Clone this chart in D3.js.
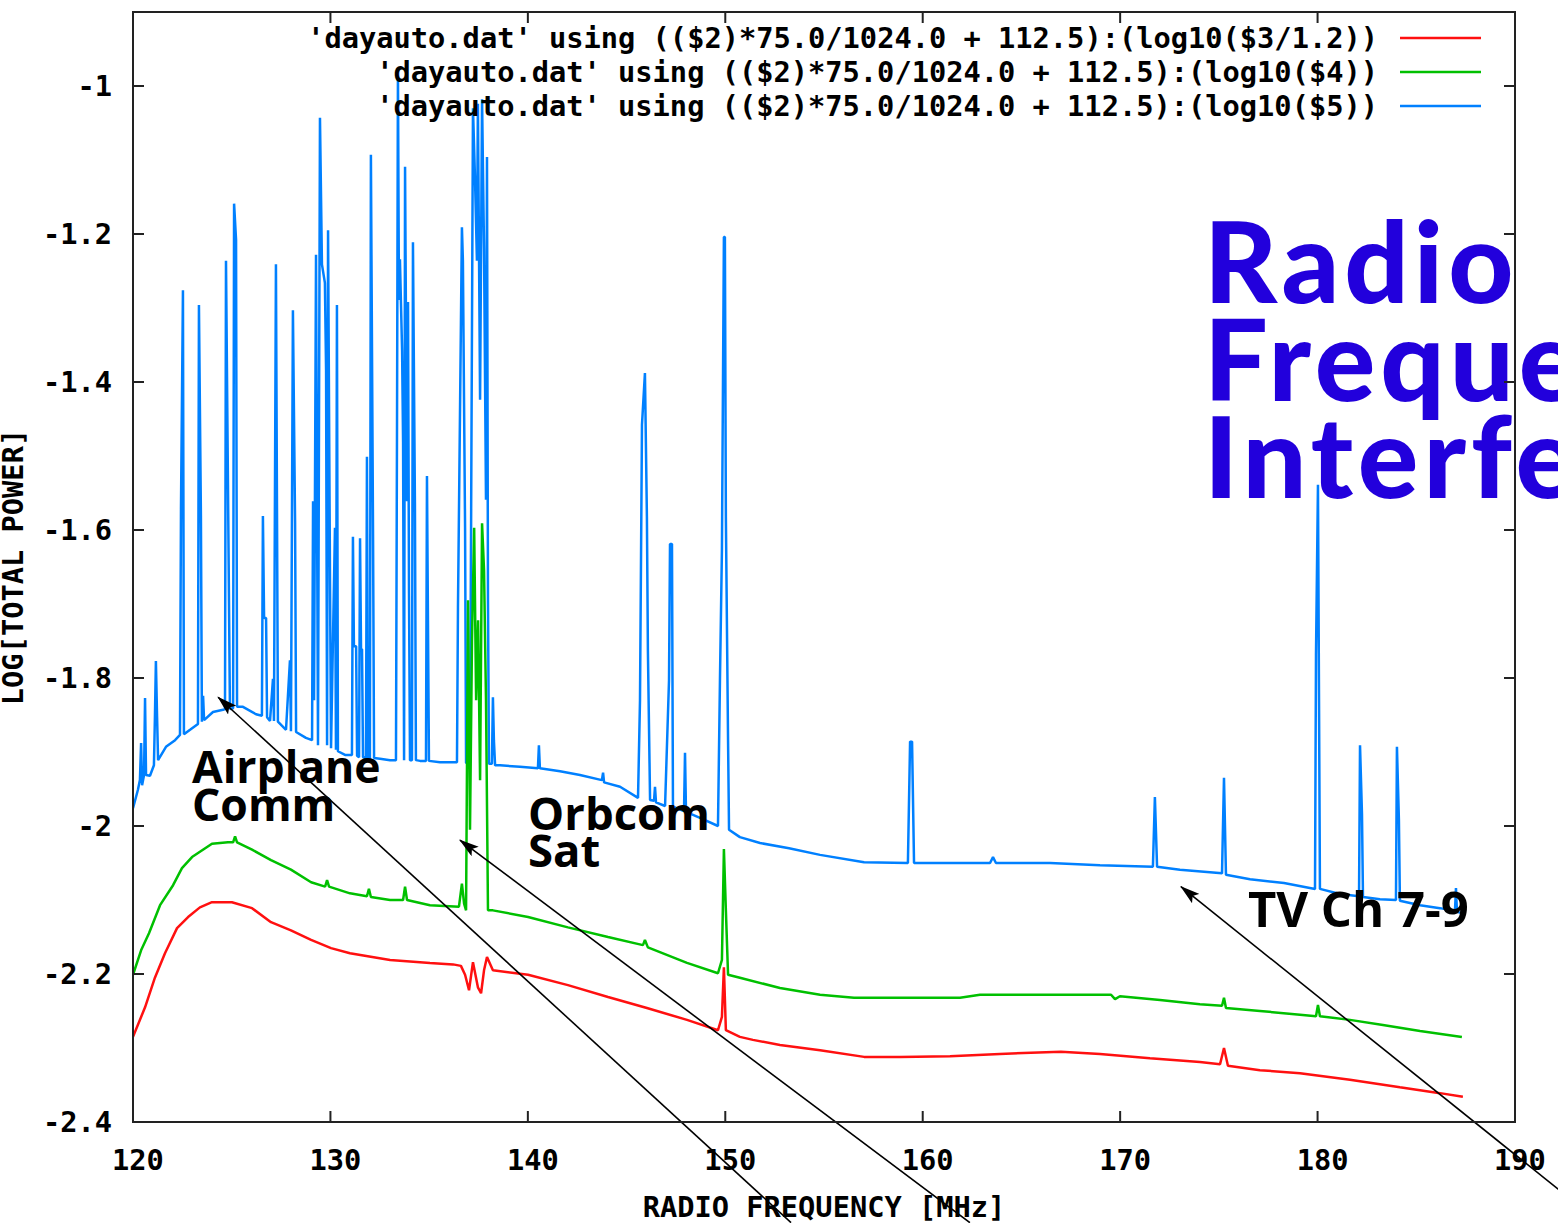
<!DOCTYPE html>
<html>
<head>
<meta charset="utf-8">
<script src="https://cdn.jsdelivr.net/npm/d3@7"></script>
<style>
  html, body { margin: 0; padding: 0; background: #fff; overflow: hidden; }
  svg { display: block; }
</style>
</head>
<body>
<svg id="chart" width="1558" height="1223"></svg>
<script>
// Axis ticks
const freqTicks = [120, 130, 140, 150, 160, 170, 180, 190];
const powerTicks = [-2.4, -2.2, -2.0, -1.8, -1.6, -1.4, -1.2, -1.0];

// Legend entries (gnuplot "using" expressions)
const seriesLabels = [
  "'dayauto.dat' using (($2)*75.0/1024.0 + 112.5):(log10($3/1.2))",
  "'dayauto.dat' using (($2)*75.0/1024.0 + 112.5):(log10($4))",
  "'dayauto.dat' using (($2)*75.0/1024.0 + 112.5):(log10($5))"
];
const seriesColors = ["#ff1010", "#00c000", "#0080ff"];

// [frequency MHz, log10 power]
const redPts = [
  [120.00,-2.285],[120.61,-2.245],[121.11,-2.205],[121.62,-2.172],[122.23,-2.138],[122.79,-2.123],
  [123.39,-2.110],[124.00,-2.103],[125.01,-2.103],[126.03,-2.111],[126.99,-2.130],[128.00,-2.141],
  [129.02,-2.154],[130.03,-2.165],[130.99,-2.172],[133.02,-2.181],[135.04,-2.185],[136.21,-2.187],
  [136.61,-2.189],[136.82,-2.201],[137.02,-2.222],[137.22,-2.184],[137.47,-2.218],[137.63,-2.226],
  [137.78,-2.195],[137.93,-2.177],[138.23,-2.195],[140.01,-2.201],[142.03,-2.215],[144.06,-2.231],
  [146.03,-2.246],[148.06,-2.262],[149.63,-2.276],[149.83,-2.258],[149.93,-2.191],[150.03,-2.276],
  [150.74,-2.285],[151.40,-2.289],[152.77,-2.296],[154.80,-2.303],[157.03,-2.312],[158.85,-2.312],
  [161.38,-2.311],[163.91,-2.308],[167.00,-2.305],[168.98,-2.308],[171.51,-2.314],[174.04,-2.319],
  [175.06,-2.322],[175.26,-2.300],[175.46,-2.324],[177.08,-2.330],[179.11,-2.334],[181.64,-2.343],
  [184.17,-2.353],[186.20,-2.361],[187.36,-2.366]
];

const greenPts = [
  [120.00,-2.201],[120.41,-2.168],[120.81,-2.145],[121.37,-2.107],[122.03,-2.080],[122.48,-2.057],
  [122.99,-2.042],[124.00,-2.024],[124.81,-2.022],[125.07,-2.022],[125.17,-2.014],[125.27,-2.022],
  [126.03,-2.032],[126.99,-2.046],[128.00,-2.059],[129.02,-2.076],[129.73,-2.082],[129.83,-2.073],
  [129.93,-2.082],[130.99,-2.091],[131.85,-2.095],[131.95,-2.085],[132.05,-2.096],[133.02,-2.100],
  [133.68,-2.100],[133.78,-2.082],[133.88,-2.100],[135.04,-2.107],[136.51,-2.109],[136.66,-2.078],
  [136.77,-2.105],[136.87,-2.114],[136.97,-1.695],[137.07,-2.005],[137.17,-1.749],[137.28,-1.597],
  [137.38,-1.830],[137.48,-1.722],[137.58,-1.938],[137.68,-1.591],[137.78,-1.654],[137.88,-1.830],
  [137.98,-2.114],[138.23,-2.114],[140.01,-2.123],[142.03,-2.137],[144.06,-2.150],[145.83,-2.161],
  [145.93,-2.154],[146.08,-2.164],[148.06,-2.185],[149.63,-2.199],[149.83,-2.181],[149.93,-2.031],
  [150.03,-2.114],[150.14,-2.201],[150.74,-2.205],[152.77,-2.219],[154.80,-2.228],[156.52,-2.232],
  [158.85,-2.232],[161.89,-2.232],[162.90,-2.228],[164.42,-2.228],[169.54,-2.228],[169.74,-2.234],
  [169.99,-2.230],[172.02,-2.235],[174.04,-2.241],[175.16,-2.243],[175.26,-2.232],[175.36,-2.246],
  [177.08,-2.250],[179.11,-2.255],[179.92,-2.257],[180.02,-2.242],[180.12,-2.257],[181.64,-2.262],
  [183.31,-2.269],[185.19,-2.277],[187.31,-2.285]
];

const bluePts = [
  [120.00,-1.976],[120.25,-1.951],[120.35,-1.938],[120.41,-1.888],[120.46,-1.945],[120.56,-1.931],
  [120.61,-1.827],[120.66,-1.931],[120.86,-1.932],[121.06,-1.918],[121.11,-1.853],[121.16,-1.777],
  [121.22,-1.853],[121.27,-1.911],[121.67,-1.893],[122.13,-1.884],[122.38,-1.877],[122.43,-1.572],
  [122.53,-1.276],[122.58,-1.876],[122.89,-1.870],[123.29,-1.862],[123.34,-1.296],[123.44,-1.581],
  [123.49,-1.859],[123.55,-1.824],[123.60,-1.857],[124.05,-1.846],[124.56,-1.843],[124.66,-1.842],
  [124.71,-1.236],[124.81,-1.538],[124.91,-1.842],[125.07,-1.841],[125.12,-1.159],[125.22,-1.208],
  [125.27,-1.839],[125.57,-1.839],[126.23,-1.849],[126.53,-1.851],[126.58,-1.581],[126.64,-1.719],
  [126.74,-1.719],[126.79,-1.853],[126.94,-1.858],[127.09,-1.801],[127.14,-1.858],[127.24,-1.241],
  [127.29,-1.553],[127.34,-1.859],[127.75,-1.870],[127.95,-1.776],[128.00,-1.872],[128.10,-1.303],
  [128.21,-1.591],[128.26,-1.873],[128.76,-1.881],[129.07,-1.884],[129.12,-1.561],[129.17,-1.830],
  [129.27,-1.228],[129.37,-1.891],[129.47,-1.043],[129.57,-1.241],[129.72,-1.266],[129.78,-1.384],
  [129.83,-1.891],[129.88,-1.195],[129.98,-1.674],[130.03,-1.895],[130.23,-1.597],[130.28,-1.897],
  [130.33,-1.296],[130.38,-1.899],[130.74,-1.904],[131.09,-1.904],[131.14,-1.609],[131.19,-1.757],
  [131.30,-1.757],[131.35,-1.905],[131.45,-1.907],[131.50,-1.611],[131.55,-1.761],[131.60,-1.761],
  [131.65,-1.907],[131.80,-1.908],[131.85,-1.501],[131.90,-1.908],[132.00,-1.908],[132.05,-1.093],
  [132.16,-1.614],[132.21,-1.908],[132.51,-1.909],[133.02,-1.911],[133.32,-1.911],[133.37,-1.482],
  [133.42,-0.978],[133.47,-1.289],[133.52,-1.234],[133.63,-1.358],[133.68,-1.482],[133.73,-1.911],
  [133.78,-1.109],[133.88,-1.561],[133.93,-1.292],[133.98,-1.685],[134.03,-1.911],[134.13,-1.911],
  [134.18,-1.211],[134.28,-1.564],[134.33,-1.911],[134.54,-1.912],[134.84,-1.912],[134.89,-1.527],
  [134.94,-1.722],[134.99,-1.912],[135.55,-1.914],[136.41,-1.914],[136.46,-1.705],[136.66,-1.191],
  [136.71,-1.236],[136.82,-1.597],[136.87,-1.915],[137.07,-1.915],[137.22,-1.030],[137.32,-1.122],
  [137.42,-1.236],[137.47,-1.024],[137.58,-1.424],[137.68,-1.018],[137.78,-1.220],[137.88,-1.559],
  [137.93,-1.096],[137.98,-1.695],[138.03,-1.916],[138.18,-1.916],[138.23,-1.826],[138.28,-1.884],
  [138.34,-1.918],[138.59,-1.918],[139.60,-1.920],[140.51,-1.922],[140.56,-1.891],[140.61,-1.922],
  [141.63,-1.926],[142.64,-1.931],[143.75,-1.938],[143.81,-1.928],[143.86,-1.941],[144.67,-1.947],
  [145.58,-1.962],[145.68,-1.830],[145.78,-1.458],[145.93,-1.388],[146.03,-1.582],[146.08,-1.762],
  [146.19,-1.965],[146.39,-1.966],[146.44,-1.947],[146.49,-1.968],[146.95,-1.973],[147.15,-1.803],
  [147.20,-1.619],[147.30,-1.619],[147.35,-1.974],[147.91,-1.980],[147.96,-1.901],[148.01,-1.981],
  [148.72,-1.989],[149.63,-2.000],[149.73,-1.803],[149.83,-1.627],[149.93,-1.204],[149.98,-1.204],
  [150.03,-1.582],[150.14,-1.884],[150.19,-2.005],[150.74,-2.015],[151.76,-2.023],[153.23,-2.030],
  [154.80,-2.039],[157.03,-2.049],[159.25,-2.050],[159.36,-1.886],[159.46,-1.886],[159.56,-2.050],
  [161.38,-2.050],[163.41,-2.050],[163.56,-2.042],[163.71,-2.050],[166.45,-2.050],[168.98,-2.053],
  [171.66,-2.055],[171.76,-1.961],[171.87,-2.055],[173.03,-2.059],[175.16,-2.064],[175.26,-1.935],
  [175.36,-2.066],[176.58,-2.072],[178.30,-2.077],[179.87,-2.085],[179.92,-1.769],[180.02,-1.539],
  [180.12,-2.085],[181.13,-2.092],[182.10,-2.095],[182.15,-1.891],[182.25,-1.985],[182.30,-2.096],
  [183.16,-2.099],[183.97,-2.100],[184.02,-1.893],[184.12,-1.992],[184.17,-2.101],[185.19,-2.107],
  [186.20,-2.111],[186.96,-2.115],[187.01,-2.084],[187.06,-2.116],[187.36,-2.118]
];

// Labels placed in data coordinates (frequency, log power)
const notes = [
  { lines: ["Airplane", "Comm"], at: [122.99, -1.942], size: 44.5 },
  { lines: ["Orbcom", "Sat"], at: [140.01, -2.005], size: 45.5 },
  { lines: ["TV Ch 7-9"], at: [176.47, -2.136], size: 49 }
];

// Arrows: from (tail) -> to (head), data coordinates
const arrows = [
  { from: [153.33, -2.536], to: [124.31, -1.826] },
  { from: [162.39, -2.536], to: [136.56, -2.019] },
  { from: [194.30, -2.536], to: [173.08, -2.082] }
];

const titleLines = ["Radio", "Frequency", "Interference"];

// ---------------------------------------------------------------
const svg = d3.select("#chart");
const W = 1558, H = 1223;
const plot = { left: 133, right: 1515, top: 12, bottom: 1122 };

const x = d3.scaleLinear().domain([120, 190]).range([plot.left, plot.right]);
const y = d3.scaleLinear().domain([-2.4, -0.9]).range([plot.bottom, plot.top]);

const monoFont = "'DejaVu Sans Mono', 'Liberation Mono', monospace";
const fmt = v => String(+v.toFixed(1));

svg.append("rect").attr("width", W).attr("height", H).attr("fill", "#fff");

const defs = svg.append("defs");
defs.append("clipPath").attr("id", "plotClip")
  .append("rect")
  .attr("x", plot.left).attr("y", plot.top)
  .attr("width", plot.right - plot.left).attr("height", plot.bottom - plot.top);

defs.append("marker")
  .attr("id", "head")
  .attr("markerUnits", "userSpaceOnUse")
  .attr("viewBox", "0 0 20 12")
  .attr("refX", 19).attr("refY", 6)
  .attr("markerWidth", 20).attr("markerHeight", 12)
  .attr("orient", "auto")
  .append("path")
  .attr("d", "M0,0 L20,6 L0,12 L4,6 Z")
  .attr("fill", "#000");

// Series curves
const line = d3.line().x(d => x(d[0])).y(d => y(d[1]));
const curves = svg.append("g").attr("clip-path", "url(#plotClip)");
[[bluePts, 2], [greenPts, 1], [redPts, 0]].forEach(([pts, i]) => {
  curves.append("path")
    .datum(pts)
    .attr("d", line)
    .attr("fill", "none")
    .attr("stroke", seriesColors[i])
    .attr("stroke-width", 2.5)
    .attr("stroke-linejoin", "bevel");
});

// Legend
const legend = svg.append("g");
seriesLabels.forEach((lab, i) => {
  const yy = 38 + i * 34;
  legend.append("text")
    .attr("x", 1378).attr("y", yy)
    .attr("dy", "0.36em")
    .attr("text-anchor", "end")
    .attr("font-family", monoFont)
    .attr("font-weight", "bold")
    .attr("font-size", 28.7)
    .attr("fill", "#000")
    .text(lab);
  legend.append("line")
    .attr("x1", 1400).attr("x2", 1481)
    .attr("y1", yy).attr("y2", yy)
    .attr("stroke", seriesColors[i])
    .attr("stroke-width", 2.5);
});

// Annotations
const noteG = svg.append("g");
notes.forEach(n => {
  const t = noteG.append("text")
    .attr("x", x(n.at[0])).attr("y", y(n.at[1]))
    .attr("font-family", "'Open Sans', 'Noto Sans', sans-serif")
    .attr("font-weight", "bold")
    .attr("font-size", n.size)
    .attr("fill", "#000");
  n.lines.forEach((s, k) => {
    t.append("tspan").attr("x", x(n.at[0])).attr("dy", k === 0 ? 0 : 37.5).text(s);
  });
});

arrows.forEach(a => {
  noteG.append("line")
    .attr("x1", x(a.from[0])).attr("y1", y(a.from[1]))
    .attr("x2", x(a.to[0])).attr("y2", y(a.to[1]))
    .attr("stroke", "#000")
    .attr("stroke-width", 1.6)
    .attr("marker-end", "url(#head)");
});

// Large overlay title
const title = svg.append("text")
  .attr("font-family", "Lato, 'Open Sans', sans-serif")
  .attr("font-weight", 900)
  .attr("font-size", 113)
  .attr("letter-spacing", 5)
  .attr("fill", "#2200dc");
titleLines.forEach((s, k) => {
  title.append("tspan").attr("x", 1204).attr("y", 303 + k * 97.5).text(s);
});

// Frame, ticks (mirrored on all four sides) and tick labels
const axes = svg.append("g").attr("stroke", "#222").attr("stroke-width", 2);
axes.append("rect")
  .attr("x", plot.left).attr("y", plot.top)
  .attr("width", plot.right - plot.left).attr("height", plot.bottom - plot.top)
  .attr("fill", "none");
const tl = 11;
freqTicks.forEach(v => {
  axes.append("line").attr("x1", x(v)).attr("x2", x(v)).attr("y1", plot.bottom).attr("y2", plot.bottom - tl);
  axes.append("line").attr("x1", x(v)).attr("x2", x(v)).attr("y1", plot.top).attr("y2", plot.top + tl);
});
powerTicks.forEach(v => {
  axes.append("line").attr("y1", y(v)).attr("y2", y(v)).attr("x1", plot.left).attr("x2", plot.left + tl);
  axes.append("line").attr("y1", y(v)).attr("y2", y(v)).attr("x1", plot.right).attr("x2", plot.right - tl);
});

const labels = svg.append("g")
  .attr("font-family", monoFont)
  .attr("font-weight", "bold")
  .attr("font-size", 28.7)
  .attr("fill", "#000");

freqTicks.forEach(v => {
  labels.append("text")
    .attr("x", x(v) + 5).attr("y", 1170)
    .attr("text-anchor", "middle")
    .text(String(v));
});
powerTicks.forEach(v => {
  labels.append("text")
    .attr("x", 112).attr("y", y(v))
    .attr("dy", "0.36em")
    .attr("text-anchor", "end")
    .text(fmt(v));
});

labels.append("text")
  .attr("x", (plot.left + plot.right) / 2).attr("y", 1217)
  .attr("text-anchor", "middle")
  .text("RADIO FREQUENCY [MHz]");

labels.append("text")
  .attr("transform", `translate(23,${(plot.top + plot.bottom) / 2}) rotate(-90)`)
  .attr("text-anchor", "middle")
  .text("LOG[TOTAL POWER]");
</script>
</body>
</html>
